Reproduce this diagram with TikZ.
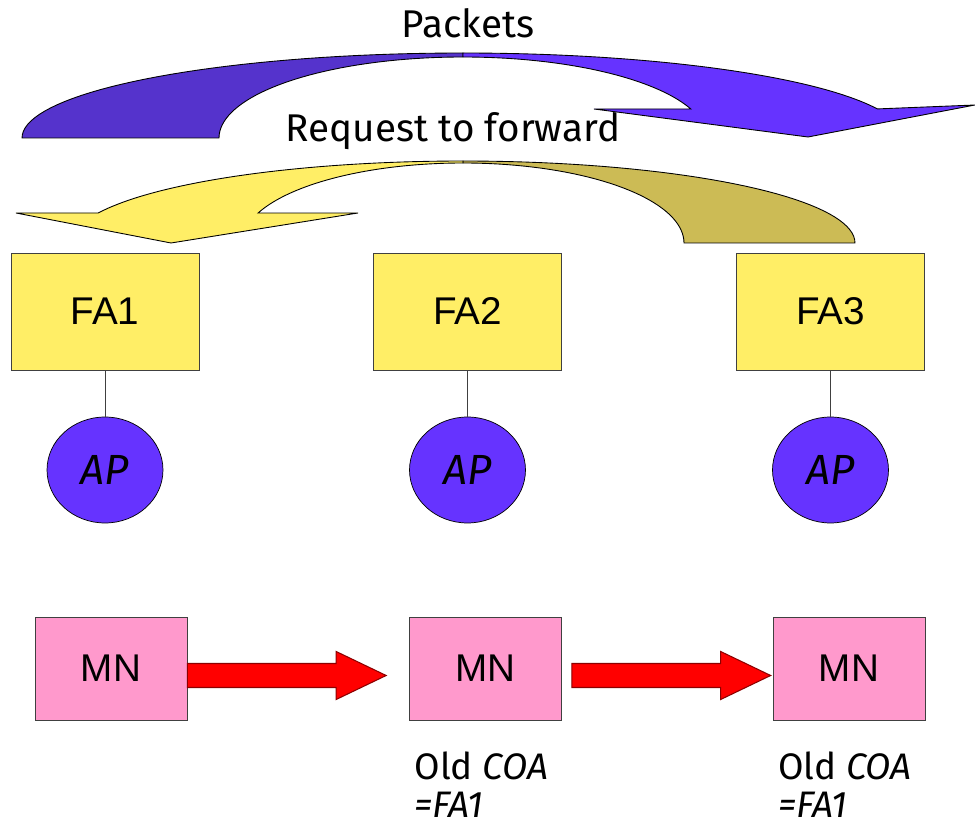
\documentclass[tikz,border=0pt]{standalone}
\usepackage{fontspec}
\setmainfont{Liberation Sans}
\newfontfamily\comicfont{Fira Sans}
\usepackage{xcolor}
\usepackage{tikz}
\usetikzlibrary{shapes.geometric,calc}

\definecolor{faYellow}{RGB}{255,238,102}
\definecolor{faOlive}{RGB}{204,187,85}
\definecolor{apPurple}{RGB}{102,51,255}
\definecolor{pkDark}{RGB}{85,51,204}
\definecolor{mnPink}{RGB}{255,153,204}

\begin{document}
\begin{tikzpicture}[x={(0.02cm,0cm)},y={(0cm,-0.02cm)},
  fabox/.style={draw=black!75,fill=faYellow,minimum width=3.76cm,minimum height=2.34cm,font=\fontsize{22}{26}\selectfont},
  apnode/.style={ellipse,draw=black,fill=apPurple,minimum width=2.32cm,minimum height=2.12cm,font=\comicfont\itshape\fontsize{24}{28}\selectfont},
  mnbox/.style={draw=black!75,fill=mnPink,minimum width=3.04cm,minimum height=2.06cm,font=\fontsize{22}{26}\selectfont},
  comic/.style={font=\comicfont\fontsize{22}{22}\selectfont,inner sep=0pt},
  coatext/.style={font=\comicfont\fontsize{21}{21.5}\selectfont,inner sep=0pt,anchor=north west,align=left},
  ribbon/.style={draw=black,line width=0.5pt},
  fatarrow/.style={fill=red,draw=red!55!black,line width=0.6pt}]
\useasboundingbox (0,0) rectangle (975,827);
\filldraw[ribbon,fill=pkDark] plot[domain=180:90,samples=40] ({463+441*cos(\x)},{138-85*sin(\x)}) -- plot[domain=90:180,samples=40] ({463+244*cos(\x)},{138-81*sin(\x)}) -- cycle;
\filldraw[ribbon,fill=apPurple] plot[domain=90:20,samples=40] ({463+441*cos(\x)},{138-85*sin(\x)}) -- (975,105) -- (808,137) -- (594,109) -- plot[domain=21:90,samples=40] ({463+244*cos(\x)},{138-81*sin(\x)}) -- cycle;
\filldraw[ribbon,fill=faOlive] plot[domain=90:0,samples=40] ({463+392*cos(\x)},{243-82*sin(\x)}) -- plot[domain=0:90,samples=40] ({463+221*cos(\x)},{243-80*sin(\x)}) -- cycle;
\filldraw[ribbon,fill=faYellow] plot[domain=90:158.5,samples=40] ({463+392*cos(\x)},{243-82*sin(\x)}) -- (16,213) -- (171,243) -- (358,213) -- plot[domain=158:90,samples=40] ({463+221*cos(\x)},{243-80*sin(\x)}) -- cycle;
\node[comic] (packets) at (468,23) {Packets};
\node[comic] (request) at (453,131) {Request to forward};
\node[fabox] (fa1) at (105,311.5) {FA1};
\node[fabox] (fa2) at (467.5,311.5) {FA2};
\node[fabox] (fa3) at (830.5,311.5) {FA3};
\node[apnode] (ap1) at (105,470) {AP};
\node[apnode] (ap2) at (467.5,470) {AP};
\node[apnode] (ap3) at (830.5,470) {AP};
\draw[black!75] (fa1.south) -- (ap1.north);
\draw[black!75] (fa2.south) -- (ap2.north);
\draw[black!75] (fa3.south) -- (ap3.north);
\node[mnbox] (mn1) at (111,668.5) {MN};
\node[mnbox] (mn2) at (485.5,668.5) {MN};
\node[mnbox] (mn3) at (849,668.5) {MN};
\coordinate (r1s) at ($(mn1.east)+(0,7)$);
\coordinate (r1e) at ($(mn2.west)+(-23,7)$);
\coordinate (r2s) at ($(mn2.east)+(10,7)$);
\coordinate (r2e) at ($(mn3.west)+(-2,7)$);
\filldraw[fatarrow] ($(r1s)+(0,-12)$) -- ($(r1e)+(-50,-12)$) -- ($(r1e)+(-50,-24)$) -- (r1e) -- ($(r1e)+(-50,24)$) -- ($(r1e)+(-50,12)$) -- ($(r1s)+(0,12)$) -- cycle;
\filldraw[fatarrow] ($(r2s)+(0,-12)$) -- ($(r2e)+(-50,-12)$) -- ($(r2e)+(-50,-24)$) -- (r2e) -- ($(r2e)+(-50,24)$) -- ($(r2e)+(-50,12)$) -- ($(r2s)+(0,12)$) -- cycle;
\node[coatext] (coa2) at ($(mn2.south west)+(5,31)$) {Old \textit{COA}\\\textit{=FA1}};
\node[coatext] (coa3) at ($(mn3.south west)+(5,31)$) {Old \textit{COA}\\\textit{=FA1}};
\end{tikzpicture}
\end{document}
